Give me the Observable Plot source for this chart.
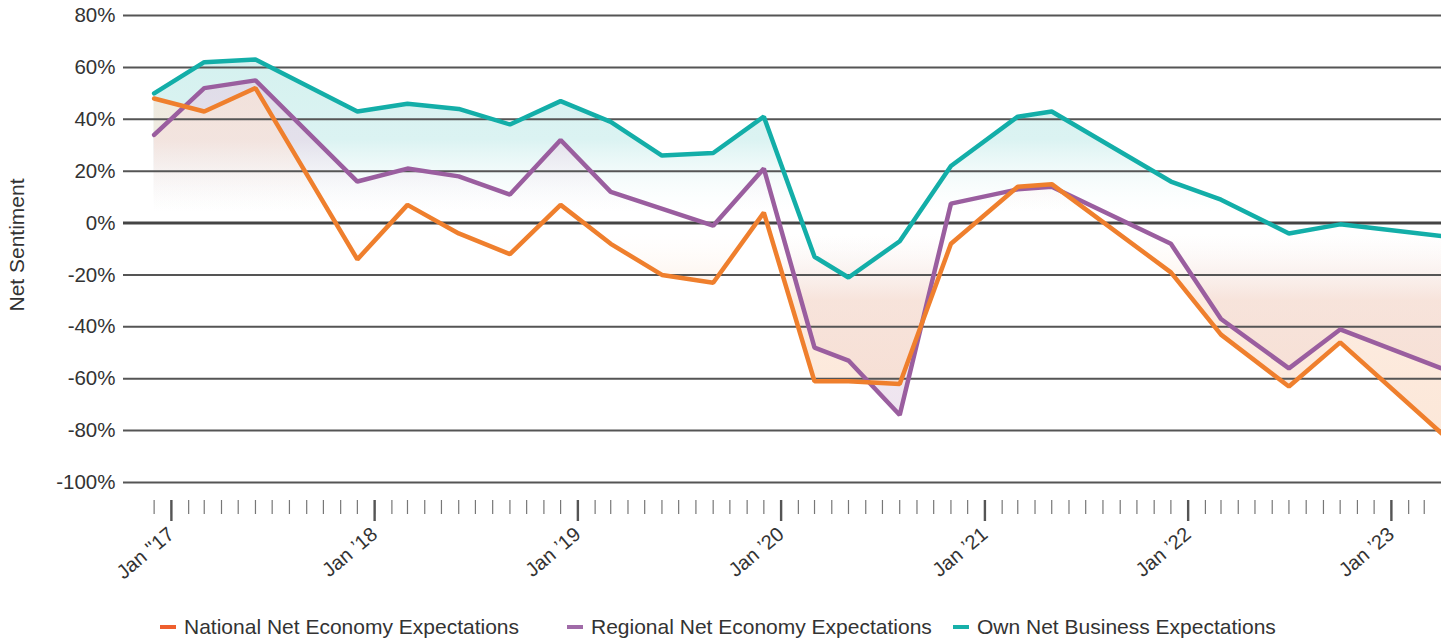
<!DOCTYPE html>
<html>
<head>
<meta charset="utf-8">
<script src="https://cdn.jsdelivr.net/npm/d3@7"></script>
<script src="https://cdn.jsdelivr.net/npm/@observablehq/plot@0.6"></script>
<style>
  html, body { margin: 0; padding: 0; background: #fff; }
  body { width: 1441px; height: 639px; position: relative; overflow: hidden; font-family: "Liberation Sans", Arial, sans-serif; }
  #chart { position: absolute; left: 0; top: 0; }
  .legend { position: absolute; top: 615px; left: 0; width: 1441px; height: 26px; color: #333; font-size: 21px; }
  .item { position: absolute; top: 0; display: flex; align-items: center; white-space: nowrap; }
  .dash { display: inline-block; width: 16px; height: 4px; margin-right: 8px; }
</style>
</head>
<body>
<div id="chart"></div>
<div class="legend" id="legend"></div>
<script>
// ---- data ----
const dates = ["2016-12","2017-03","2017-06","2017-12","2018-03","2018-06","2018-09","2018-12","2019-03","2019-06","2019-09","2019-12","2020-03","2020-05","2020-08","2020-11","2021-03","2021-05","2021-12","2022-03","2022-07","2022-10","2023-04"];
const national = [48, 43, 52, -14, 7, -4, -12, 7, -8, -20, -23, 4, -61, -61, -62, -8, 14, 15, -19, -43, -63, -46, -81];
const regional = [34, 52, 55, 16, 21, 18, 11, 32, 12, null, -1, 21, -48, -53, -74, 7.5, 13, 14, -8, -37, -56, -41, -56];
const own      = [50, 62, 63, 43, 46, 44, 38, 47, 39, 26, 27, 41, -13, -21, -7, 22, 41, 43, 16, 9, -4, -0.5, -5];
const seriesNames = ["National Net Economy Expectations", "Regional Net Economy Expectations", "Own Net Business Expectations"];
const yTicks = [80, 60, 40, 20, 0, -20, -40, -60, -80, -100];
const xTickYears = [2017, 2018, 2019, 2020, 2021, 2022, 2023];
const xTickLabels = ["Jan ''17", "Jan \u201918", "Jan \u201919", "Jan \u201920", "Jan \u201921", "Jan \u201922", "Jan \u201923"];
const yTitle = "Net Sentiment";

// ---- styling ----
const lineColors = ["#EF7F2D", "#9A5E9F", "#13AEA8"];
const legendColors = ["#EE5F2E", "#A06BA8", "#17B0A9"];
const gradIds = ["gNat", "gReg", "gOwn"];
// [positive-side tint, negative-side tint, layer opacity]
const gradStyle = [[0.24, 0.32, 0.62], [0.3, 0.26, 0.7], [0.19, 0.08, 1]];

const parse = d3.utcParse("%Y-%m");
const valuesBySeries = [national, regional, own];
const seriesData = valuesBySeries.map((vals, s) =>
  dates.map((d, i) => ({date: parse(d), value: vals[i], series: seriesNames[s]}))
       .filter(r => r.value !== null && r.value !== undefined)
);

const minorTicks = d3.utcMonth.range(new Date(Date.UTC(2016, 11, 1)), new Date(Date.UTC(2023, 3, 1)));
const majorTicks = xTickYears.map(y => new Date(Date.UTC(y, 0, 1)));
const labelFor = new Map(xTickYears.map((y, i) => [y, xTickLabels[i]]));

const marks = [];
[2, 1, 0].forEach(s => {
  marks.push(Plot.areaY(seriesData[s], {x: "date", y1: 0, y2: "value", fill: `url(#${gradIds[s]})`, curve: "linear"}));
});
marks.push(Plot.ruleY(yTicks.filter(v => v !== 0), {stroke: "#555", strokeWidth: 2}));
marks.push(Plot.ruleY([0], {stroke: "#444", strokeWidth: 3}));
[2, 1, 0].forEach(s => {
  marks.push(Plot.line(seriesData[s], {x: "date", y: "value", stroke: lineColors[s], strokeWidth: 4.5, strokeLinejoin: "miter"}));
});
marks.push(Plot.axisY({ticks: yTicks, tickSize: 0, tickPadding: 8, fontSize: 20.5, tickFormat: d => d + "%", label: null}));
marks.push(Plot.text([yTitle], {frameAnchor: "left", textAnchor: "middle", rotate: -90, dx: -106, dy: -13, fontSize: 21, fill: "#333"}));
marks.push(Plot.axisX({ticks: minorTicks, tickSize: 14, tickFormat: () => "", stroke: "#777", strokeWidth: 1.2, label: null}));
marks.push(Plot.axisX({ticks: majorTicks, tickSize: 21, strokeWidth: 2.4, stroke: "#555", tickRotate: -40, tickPadding: 10, fontSize: 20,
  tickFormat: d => labelFor.get(d.getUTCFullYear()), label: null}));

const plot = Plot.plot({
  width: 1441,
  height: 598,
  marginLeft: 123,
  marginRight: 0,
  marginTop: 15,
  marginBottom: 98,
  style: {fontFamily: "'Liberation Sans', Arial, sans-serif", color: "#333", background: "#fff", overflow: "visible"},
  x: {type: "utc", domain: [new Date(Date.UTC(2016, 9, 7)), new Date(Date.UTC(2023, 3, 1))]},
  y: {domain: [-100, 80], range: [482, 15]},
  marks
});

// gradient defs
const ys = plot.scale("y");
const yTop = ys.apply(80), yBot = ys.apply(-100), yZero = ys.apply(0);
const zeroOff = (yZero - yTop) / (yBot - yTop);
const ns = "http://www.w3.org/2000/svg";
const defs = document.createElementNS(ns, "defs");
gradIds.forEach((id, s) => {
  const [pos, neg, op] = gradStyle[s];
  const mix = d3.interpolateRgb("#ffffff", lineColors[s]);
  const g = document.createElementNS(ns, "linearGradient");
  g.setAttribute("id", id);
  g.setAttribute("gradientUnits", "userSpaceOnUse");
  g.setAttribute("x1", 0); g.setAttribute("x2", 0);
  g.setAttribute("y1", yTop); g.setAttribute("y2", yBot);
  const stops = [[0, pos, op], [zeroOff * 0.6, pos * 0.8, op], [zeroOff * 0.95, 0.0, op * 0.3], [zeroOff, 0, 0],
                 [zeroOff * 1.05, 0, op * 0.3], [zeroOff + (1 - zeroOff) * 0.3, neg * 0.75, op], [1, neg, op]];
  stops.forEach(([o, a, opc]) => {
    const st = document.createElementNS(ns, "stop");
    st.setAttribute("offset", o);
    st.setAttribute("stop-color", mix(a));
    st.setAttribute("stop-opacity", opc);
    g.appendChild(st);
  });
  defs.appendChild(g);
});
plot.insertBefore(defs, plot.firstChild);
document.getElementById("chart").appendChild(plot);

// legend
const legendLeft = [160, 567, 953];
const legend = document.getElementById("legend");
seriesNames.forEach((name, s) => {
  const it = document.createElement("div");
  it.className = "item";
  it.style.left = legendLeft[s] + "px";
  const dash = document.createElement("span");
  dash.className = "dash";
  dash.style.background = legendColors[s];
  const t = document.createElement("span");
  t.textContent = name;
  it.appendChild(dash); it.appendChild(t);
  legend.appendChild(it);
});
</script>
</body>
</html>
